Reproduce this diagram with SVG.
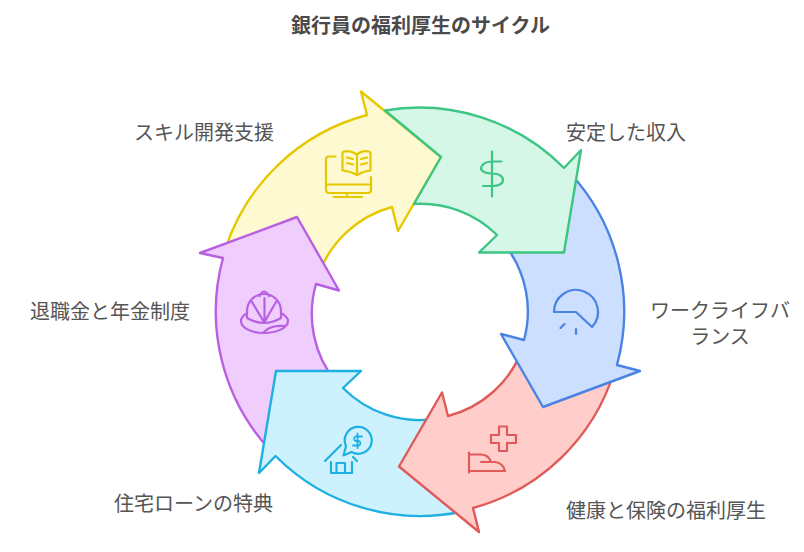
<svg xmlns="http://www.w3.org/2000/svg" width="804" height="552" viewBox="0 0 804 552">
<style>
text{font-family:"Noto Sans CJK JP","Noto Sans CJK SC",sans-serif;font-size:20px;fill:#555555}
.title{font-weight:700;fill:#4a4a4a}
.a{stroke-width:2.4;stroke-linejoin:round}
.i{fill:none;stroke-width:2.2;stroke-linecap:round;stroke-linejoin:round}
.y{fill:#fef9d0;stroke:#e5c800}.g{fill:#d4f7e7;stroke:#3cc583}.b{fill:#cddffe;stroke:#4a83e4}
.r{fill:#ffcecb;stroke:#e05a5a}.c{fill:#cdf2fe;stroke:#1fb0e3}.p{fill:#efcdfd;stroke:#b760e2}
</style>
<rect width="804" height="552" fill="#ffffff"/>
<text class="title" x="420.500" y="32.500" text-anchor="middle">銀行員の福利厚生のサイクル</text>
<g id="connectors">
<path id="arrow-yellow" class="a y" d="M225 250A204 204 0 0 1 367 115L361 91.500L441 157L398 231L392 207A108 108 0 0 0 318 276Z"/>
<path id="arrow-purple" class="a p" d="M270 450A204 204 0 0 1 223 258L200 253L297 217L339 290.500L316 284A108 108 0 0 0 336 382Z"/>
<path id="arrow-cyan" class="a c" d="M465 511A204 204 0 0 1 275.500 456L259 473L276 371H361L343 388A108 108 0 0 0 435 419Z"/>
<path id="arrow-red" class="a r" d="M614 372A204 204 0 0 1 473 508L479 532L399 466.500L442 392.500L448 416A108 108 0 0 0 522 350Z"/>
<path id="arrow-blue" class="a b" d="M570 173A204 204 0 0 1 617 365L640 371L543 407L501 334L524 340A108 108 0 0 0 505 245Z"/>
<path id="arrow-green" class="a g" d="M385 110.500A204 204 0 0 1 564 168L581 150L564 252.500H479L497 235A108 108 0 0 0 414 204L441 157Z"/>
</g>
<g id="node-skill">
<path class="i y" style="fill:none" d="M335.500 156.500H329A3 3 0 0 0 326 159.500V190A3 3 0 0 0 329 193H368A3 3 0 0 0 371 190V177M326 184.500H371M347 193V197M333.500 197H362M357 154.500Q350 150 344.500 151.500A2 2 0 0 0 342.500 153.500V170.500Q350 171 357 175Q364 171 370.500 170.500V153.500A2 2 0 0 0 368.500 151.500Q362 150 357 154.500V175M347 157.500L353 159M347 163L353 164.500M367 157.500L361 159M367 163L361 164.500"/>
<text x="134" y="140">スキル開発支援</text>
</g>
<g id="node-income">
<path class="i g" style="fill:none" d="M492 151.500V196.500M501.500 161.500H491C485 161.500 481 165.500 481 168C481 171 485 173.500 491 173.500H493C499 173.500 503 176.500 503 180C503 183.500 499 186 493 186H483"/>
<text x="566" y="140">安定した収入</text>
</g>
<g id="node-balance">
<path class="i b" style="fill:none" d="M554 312A22 22 0 1 1 592 327L576 312ZM560.500 328L564.500 324M576 329V334"/>
<text text-anchor="middle"><tspan x="720" y="318">ワークライフバ</tspan><tspan x="720" y="343.500">ランス</tspan></text>
</g>
<g id="node-health">
<path class="i r" style="fill:none" d="M499 426.500H507V435H516V443H507V451H499V443H491V435H499ZM469 452.500V472.500M469 454.500H481Q489 455 491 462M481 462H495Q503 463 505 471H469"/>
<text x="566" y="518">健康と保険の福利厚生</text>
</g>
<g id="node-housing">
<path class="i c" style="fill:none" d="M325 461L341 445M353 457L357 461M331 462V473H352V462M336.500 473V463H345V473M346 446L343.500 455.500L351.500 452A13.500 13.500 0 1 0 346 446Z"/>
<path class="i c" style="fill:none;stroke-width:1.8" d="M362 436.500H355.500A2.500 2.500 0 0 0 355.500 441H359A2.500 2.500 0 0 1 359 445.500H353M357.500 433.500V448"/>
<text x="114" y="511">住宅ローンの特典</text>
</g>
<g id="node-retire">
<path class="i p" style="fill:none" d="M247 318V311A17 17 0 0 1 281 311V318Q264 328 247 318ZM259.500 296Q264 287 269 296M264.500 322V298M264 322L252 302M264.500 322L276 302M247 313Q241 317 241 321C241 328 252 333 264 333C276 333 288 328 288 321Q288 317 281 313M264 332Q270 325 284 326"/>
<text x="30" y="319">退職金と年金制度</text>
</g>
</svg>
